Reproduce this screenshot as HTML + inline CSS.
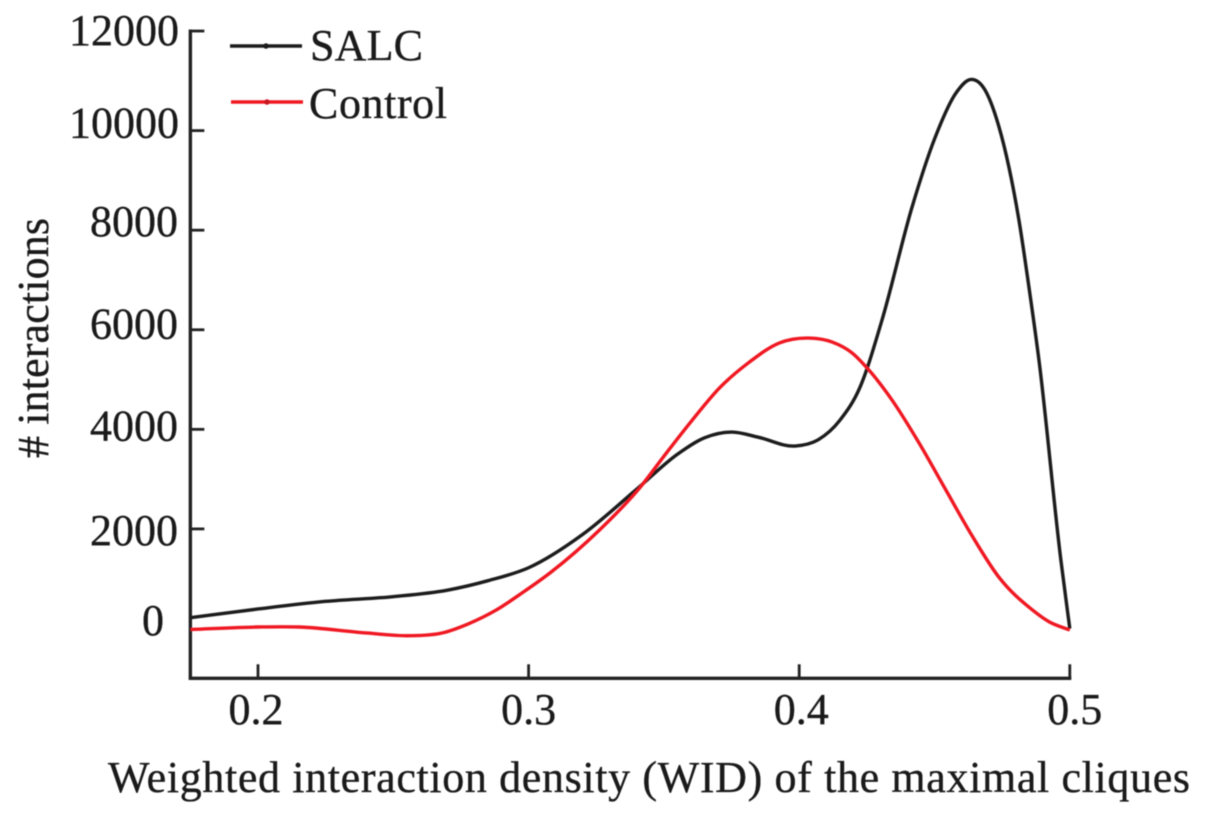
<!DOCTYPE html>
<html lang="en">
<head>
<meta charset="utf-8">
<title>Weighted interaction density chart</title>
<style>
  html, body { margin: 0; padding: 0; background: #fff; }
  body { width: 1205px; height: 817px; overflow: hidden; }
  svg { display: block; filter: blur(0.6px); }
  text { font-family: "Liberation Serif", "Times New Roman", serif; fill: #1a1a1a; stroke: #1a1a1a; stroke-width: 0.35px; font-size: 44px; }
</style>
</head>
<body>
<svg id="chart" xmlns="http://www.w3.org/2000/svg" width="1205" height="817" viewBox="0 0 1205 817">
  <rect x="0" y="0" width="1205" height="817" fill="#fff"/>
  <g id="axes"></g>
  <g id="series"></g>
  <text x="108" y="792" textLength="1082" lengthAdjust="spacing">Weighted interaction density (WID) of the maximal cliques</text>
  <text transform="translate(48,458) rotate(-90)" textLength="240" lengthAdjust="spacing"># interactions</text>
  <g>
    <g>
      <line x1="230" x2="302" y1="46" y2="46" stroke="#1c1c1c" stroke-width="3.4"/>
      <circle cx="266" cy="46" r="2.8" fill="#1c1c1c"/>
      <text x="310" y="60" textLength="113" lengthAdjust="spacing">SALC</text>
    </g>
    <g>
      <line x1="231" x2="303" y1="102" y2="102" stroke="#f01822" stroke-width="3.4"/>
      <circle cx="267" cy="102" r="2.8" fill="#c81820"/>
      <text x="309" y="118" textLength="138" lengthAdjust="spacing">Control</text>
    </g>
  </g>
</svg>
<script>
const salcWid = [0.175,0.2,0.225,0.25,0.27,0.285,0.3,0.32,0.34,0.355,0.365,0.375,0.385,0.3985,0.407,0.415,0.4225,0.4306,0.4417,0.45,0.458,0.4635,0.4685,0.4738,0.4775,0.4812,0.4849,0.4886,0.4967,0.5];
const salcValues = [217,392,545,640,770,960,1220,1890,2800,3500,3830,3946,3840,3665,3790,4180,4850,6195,8464,9830,10760,11028,10830,10080,9267,8203,6857,5392,1375,0];
const controlWid = [0.175,0.2,0.215,0.24,0.256,0.268,0.278,0.288,0.298,0.308,0.3262,0.341,0.3509,0.3605,0.3705,0.3816,0.3926,0.4037,0.4122,0.4196,0.4251,0.4343,0.4443,0.4542,0.4638,0.4738,0.486,0.4925,0.5];
const controlValues = [-20,30,30,-90,-145,-90,100,370,730,1120,1978,2821,3524,4187,4829,5351,5733,5833,5753,5532,5231,4588,3725,2781,1870,1030,380,130,-30];
const xTicks = [0.2,0.3,0.4,0.5];
const xTickLabels = ["0.2","0.3","0.4","0.5"];
const yTicks = [0,2000,4000,6000,8000,10000,12000];
const yTickLabels = ["0","2000","4000","6000","8000","10000","12000"];
const xLabelNudge = [-2,0,2,5];
const yLabelNudge = [6.5,16,11,8.5,6,7,14];
const yLabelRight = [164,178,178,178,178,179,179];

const SVG_NS = "http://www.w3.org/2000/svg";
const xMin = 0.175;
const yMin = -1000;
function xScale(u) { return 258 + (u - 0.2) * 2706; }
function yScale(v) { return 628.5 - v * 0.04979; }

const axes = document.getElementById("axes");
const seriesGroup = document.getElementById("series");

function makeLine(x1, y1, x2, y2, w) {
  const l = document.createElementNS(SVG_NS, "line");
  l.setAttribute("x1", x1);
  l.setAttribute("y1", y1);
  l.setAttribute("x2", x2);
  l.setAttribute("y2", y2);
  l.setAttribute("stroke", "#222");
  l.setAttribute("stroke-width", w);
  return l;
}

const x0 = xScale(xMin);
const yB = yScale(yMin);

const yAxisLine = makeLine(x0, yScale(12000) - 1.5, x0, yB + 1.5, 3.4);


axes.appendChild(yAxisLine);

const xAxisLine = makeLine(x0 - 1.5, yB, xScale(0.5) + 1.5, yB, 3.4);


axes.appendChild(xAxisLine);

xTicks.forEach(function (t, i) {
  const px = xScale(t);
  const tick = makeLine(px, yB, px, yB - 14, 2.8);
  
  
  axes.appendChild(tick);
  const label = document.createElementNS(SVG_NS, "text");
  label.setAttribute("x", px + xLabelNudge[i]);
  label.setAttribute("y", 724);
  label.setAttribute("text-anchor", "middle");
  label.textContent = xTickLabels[i];
  
  
  axes.appendChild(label);
});

yTicks.forEach(function (t, i) {
  const py = yScale(t);
  if (t !== 0) {
    const tick = makeLine(x0, py, x0 + 14, py, 2.8);
    
    
    axes.appendChild(tick);
  }
  const label = document.createElementNS(SVG_NS, "text");
  label.setAttribute("x", yLabelRight[i]);
  label.setAttribute("y", py + yLabelNudge[i]);
  label.setAttribute("text-anchor", "end");
  label.textContent = yTickLabels[i];
  
  
  axes.appendChild(label);
});

function curvePath(us, vs) {
  const pts = us.map(function (u, i) { return [xScale(u), yScale(vs[i])]; });
  const n = pts.length;
  const h = [];
  const d = [];
  for (let i = 0; i < n - 1; i++) {
    h.push(pts[i + 1][0] - pts[i][0]);
    d.push((pts[i + 1][1] - pts[i][1]) / h[i]);
  }
  const m = [d[0]];
  for (let i = 1; i < n - 1; i++) {
    m.push((h[i - 1] * d[i] + h[i] * d[i - 1]) / (h[i - 1] + h[i]));
  }
  m.push(d[n - 2]);
  let out = "M" + pts[0][0].toFixed(2) + " " + pts[0][1].toFixed(2);
  for (let i = 0; i < n - 1; i++) {
    const c1x = pts[i][0] + h[i] / 3;
    const c1y = pts[i][1] + m[i] * h[i] / 3;
    const c2x = pts[i + 1][0] - h[i] / 3;
    const c2y = pts[i + 1][1] - m[i + 1] * h[i] / 3;
    out += " C" + c1x.toFixed(2) + " " + c1y.toFixed(2) + " " + c2x.toFixed(2) + " " + c2y.toFixed(2) + " " + pts[i + 1][0].toFixed(2) + " " + pts[i + 1][1].toFixed(2);
  }
  return out;
}

const salcLine = document.createElementNS(SVG_NS, "path");
salcLine.setAttribute("d", curvePath(salcWid, salcValues));
salcLine.setAttribute("fill", "none");
salcLine.setAttribute("stroke", "#1c1c1c");
salcLine.setAttribute("stroke-width", "3.4");


seriesGroup.appendChild(salcLine);

const controlLine = document.createElementNS(SVG_NS, "path");
controlLine.setAttribute("d", curvePath(controlWid, controlValues));
controlLine.setAttribute("fill", "none");
controlLine.setAttribute("stroke", "#f01822");
controlLine.setAttribute("stroke-width", "3.4");


seriesGroup.appendChild(controlLine);
</script>
</body>
</html>
